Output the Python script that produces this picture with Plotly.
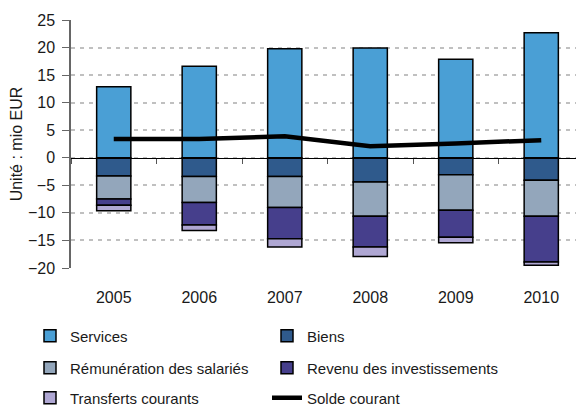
import plotly.graph_objects as go

years = ["2005", "2006", "2007", "2008", "2009", "2010"]
services = [12.9, 16.6, 19.8, 19.9, 17.9, 22.7]
biens = [-3.3, -3.4, -3.4, -4.4, -3.1, -4.1]
remuneration = [-4.2, -4.7, -5.6, -6.2, -6.4, -6.5]
revenu = [-1.1, -4.1, -5.7, -5.6, -4.9, -8.3]
transferts = [-1.0, -1.0, -1.5, -1.7, -1.0, -0.6]
solde = [3.4, 3.4, 3.9, 2.1, 2.6, 3.2]

y_ticks = [25, 20, 15, 10, 5, 0, -5, -10, -15, -20]

FONT = "Liberation Sans, Arial, sans-serif"
TXT = "#1a1a1a"

bar_series = [
    ("Services", services, "#4A9FD5", "legend"),
    ("Biens", biens, "#2F5A8C", "legend"),
    ("Rémunération des salariés", remuneration, "#93A6BB", "legend2"),
    ("Revenu des investissements", revenu, "#463F8C", "legend2"),
    ("Transferts courants", transferts, "#AFA7D3", "legend3"),
]

fig = go.Figure()
for name, vals, col, lg in bar_series:
    fig.add_trace(go.Bar(
        x=years, y=vals, name=name, marker_color=col,
        marker_line=dict(color="#000000", width=1.5),
        width=0.4, legend=lg,
    ))

fig.add_trace(go.Scatter(
    x=years, y=solde, name="Solde courant", mode="lines",
    line=dict(color="#000000", width=4.5), xaxis="x2", legend="legend3",
))

# page has an 8px body margin: figure is drawn 8px right/down
W, H = 576, 400
L, T, B, R = 63, 12, 140, 0
PW, PH = W - L - R, H - T - B

leg_common = dict(
    orientation="h", xanchor="left", yanchor="middle",
    entrywidth=192, entrywidthmode="pixels",
    font=dict(family=FONT, size=15, color=TXT),
    bgcolor="rgba(0,0,0,0)", borderwidth=0,
    traceorder="normal", itemclick=False,
)
x_leg = (22 - L) / PW
def py(p):
    return (T + PH - (p - 8)) / PH

fig.update_layout(
    width=W, height=H,
    margin=dict(l=L, r=R, t=T, b=B, autoexpand=False),
    paper_bgcolor="white", plot_bgcolor="white",
    barmode="relative",
    font=dict(family=FONT, size=16, color=TXT),
    showlegend=True,
    legend=dict(leg_common, x=x_leg, y=py(336)),
    legend2=dict(leg_common, x=x_leg, y=py(368)),
    legend3=dict(leg_common, x=x_leg, y=py(398)),
    xaxis=dict(
        type="category", categoryorder="array", categoryarray=years,
        range=[-0.5, 5.5], showline=False, showgrid=False, zeroline=False,
        ticks="", ticklabelstandoff=18,
        tickfont=dict(family=FONT, size=16, color=TXT),
    ),
    xaxis2=dict(
        type="category", categoryorder="array", categoryarray=years,
        range=[-0.5, 5.5], overlaying="x", anchor="free",
        position=(0 - (-20)) / 45.0, side="bottom",
        showline=True, linecolor="#000000", linewidth=1.2,
        ticks="outside", tickson="boundaries", ticklen=5,
        tickcolor="#555555", tickwidth=1,
        showticklabels=False, showgrid=False, zeroline=False,
    ),
    yaxis=dict(
        range=[-20, 25], tickmode="array", tickvals=y_ticks,
        showline=True, linecolor="#666666", linewidth=1.5,
        ticks="outside", ticklen=7, tickcolor="#666666", tickwidth=1.2,
        showgrid=True, gridcolor="#C0C0C0", gridwidth=1.5, griddash="4px,5px",
        zeroline=False, ticklabelstandoff=4,
        tickfont=dict(family=FONT, size=16, color=TXT),
        title=dict(text="Unité : mio EUR", standoff=14,
                   font=dict(family=FONT, size=16, color=TXT)),
    ),
)

fig.write_html("out.html")
